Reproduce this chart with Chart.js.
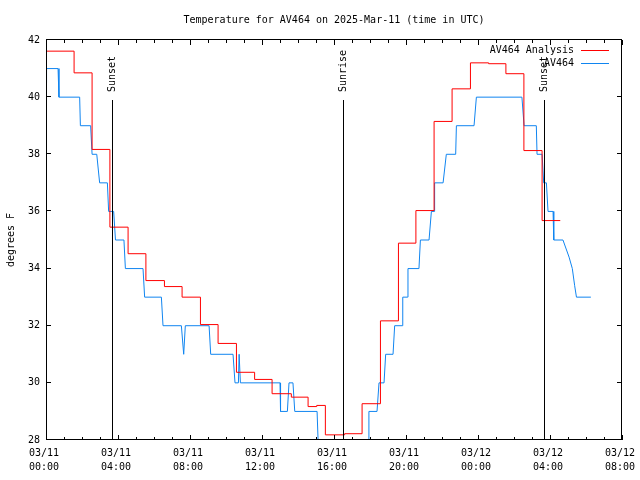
<!DOCTYPE html>
<html><head><meta charset="utf-8">
<script src="https://cdn.jsdelivr.net/npm/chart.js@4.4.1/dist/chart.umd.min.js"></script>
<style>html,body{margin:0;padding:0;background:#fff;}canvas{display:block;}</style>
</head><body>
<canvas id="c" width="640" height="480"></canvas>
<script>
// ---- data (hours since 03/11 00:00 UTC, degrees F) ----
const titleText = 'Temperature for AV464 on 2025-Mar-11 (time in UTC)';
const yAxisLabel = 'degrees F';
const tickDates = ['03/11','03/11','03/11','03/11','03/11','03/11','03/12','03/12','03/12'];
const tickTimes = ['00:00','04:00','08:00','12:00','16:00','20:00','00:00','04:00','08:00'];
const seriesNames = ['AV464 Analysis', 'AV464'];
const seriesColors = ['#ff0000', '#1085f0'];

const anaHours = [0, 1.56, 2.56, 3.55, 4.56, 5.55, 6.58, 7.56, 8.58, 9.56, 10.58, 11.59, 12.56, 13.63, 14.56, 15.04, 15.52, 16.59, 17.56, 18.58, 19.58, 20.55, 21.56, 22.56, 23.58, 24.59, 25.55, 26.55, 27.56, 28.57];
const anaTemps = [41.61, 40.85, 38.17, 35.45, 34.52, 33.58, 33.37, 33.0, 32.04, 31.38, 30.37, 30.12, 29.62, 29.5, 29.17, 29.21, 28.18, 28.22, 29.27, 32.17, 34.89, 36.03, 39.15, 40.29, 41.2, 41.17, 40.82, 38.13, 35.68, 35.68];

const obsHours = [0.0, 0.03, 0.67, 0.72, 1.87, 1.91, 2.48, 2.56, 2.82, 2.98, 3.41, 3.48, 3.76, 3.86, 4.33, 4.41, 5.39, 5.48, 6.41, 6.5, 7.52, 7.65, 7.74, 9.06, 9.15, 10.39, 10.5, 10.69, 10.73, 10.8, 13.0, 13.03, 13.41, 13.5, 13.72, 13.82, 15.06, 15.17, 17.89, 17.94, 18.39, 18.5, 18.78, 18.87, 19.28, 19.37, 19.78, 19.82, 20.08, 20.11, 20.72, 20.8, 21.28, 21.41, 21.56, 21.59, 22.06, 22.24, 22.76, 22.8, 23.78, 23.91, 26.44, 26.56, 27.24, 27.28, 27.56, 27.65, 27.8, 27.89, 28.17, 28.21, 28.72, 29.06, 29.24, 29.37, 29.47, 30.27];
const obsTemps = [40.5, 41, 41, 40, 40, 39, 39, 38, 38, 37, 37, 36, 36, 35, 35, 34, 34, 33, 33, 32, 32, 31, 32, 32, 31, 31, 30, 30, 31, 30, 30, 29, 29, 30, 30, 29, 29, 27, 27, 29, 29, 30, 30, 31, 31, 32, 32, 33, 33, 34, 34, 35, 35, 36, 36, 37, 37, 38, 38, 39, 39, 40, 40, 39, 39, 38, 38, 37, 37, 36, 36, 35, 35, 34.4, 34, 33.4, 33, 33];

const sunHours = [3.64, 16.5, 27.67];
const sunLabels = ['Sunset', 'Sunrise', 'Sunset'];

// ---- chart ----
const FONT = '"DejaVu Sans Mono", "Liberation Mono", monospace';
Chart.defaults.font.family = FONT;
Chart.defaults.font.size = 10;
Chart.defaults.color = '#000';

const toXY = (xs, ys) => xs.map((x, i) => ({x: x, y: ys[i]}));

const decor = {
  id: 'decor',
  afterDatasetsDraw(chart) {
    const {ctx, chartArea: a, scales: {x, y}} = chart;
    ctx.save();
    ctx.strokeStyle = '#000';
    ctx.fillStyle = '#000';
    ctx.lineWidth = 1;
    ctx.font = '10px ' + FONT;
    // sunrise / sunset markers
    sunHours.forEach((h, i) => {
      const px = Math.round(x.getPixelForValue(h)) + 0.5;
      ctx.beginPath();
      ctx.moveTo(px, a.top + 0.15 * (a.bottom - a.top));
      ctx.lineTo(px, a.bottom);
      ctx.stroke();
      ctx.save();
      ctx.translate(px, a.top + 52);
      ctx.rotate(-Math.PI / 2);
      ctx.textAlign = 'left';
      ctx.textBaseline = 'middle';
      ctx.fillText(sunLabels[i], 0, 0);
      ctx.restore();
    });
    // frame
    ctx.beginPath();
    ctx.rect(a.left + 0.5, a.top - 0.5, a.right - a.left - 1, a.bottom - a.top);
    ctx.stroke();
    // x ticks (hourly minor, 4-hourly major), mirrored on top
    ctx.beginPath();
    for (let h = x.min; h <= x.max; h++) {
      const len = (h % 4 === 0) ? 5 : 3;
      const px = Math.round(x.getPixelForValue(h)) + 0.5;
      ctx.moveTo(px, a.bottom); ctx.lineTo(px, a.bottom - len);
      ctx.moveTo(px, a.top); ctx.lineTo(px, a.top + len);
    }
    // y ticks, mirrored on right
    for (let v = y.min; v <= y.max; v += 2) {
      const py = Math.round(y.getPixelForValue(v)) - 0.5;
      ctx.moveTo(a.left, py); ctx.lineTo(a.left + 5, py);
      ctx.moveTo(a.right, py); ctx.lineTo(a.right - 5, py);
    }
    ctx.stroke();
    // legend (top right, text right-aligned, sample line to the right)
    ctx.textAlign = 'right';
    ctx.textBaseline = 'middle';
    chart.data.datasets.forEach((ds, i) => {
      const ty = a.top + 10 + 13 * i;
      ctx.fillStyle = '#000';
      ctx.fillText(ds.label, a.right - 48, ty);
      ctx.strokeStyle = ds.borderColor;
      ctx.beginPath();
      ctx.moveTo(a.right - 41, ty + 0.5);
      ctx.lineTo(a.right - 13, ty + 0.5);
      ctx.stroke();
    });
    ctx.restore();
  }
};

new Chart(document.getElementById('c'), {
  type: 'line',
  data: {
    datasets: [
      { label: seriesNames[0], data: toXY(anaHours, anaTemps), borderColor: seriesColors[0],
        borderWidth: 1, pointRadius: 0, stepped: true, tension: 0 },
      { label: seriesNames[1], data: toXY(obsHours, obsTemps), borderColor: seriesColors[1],
        borderWidth: 1, pointRadius: 0, tension: 0 }
    ]
  },
  options: {
    responsive: false,
    animation: false,
    devicePixelRatio: 1,
    events: [],
    layout: { padding: { left: 0, right: 18, top: 0, bottom: 0 } },
    plugins: {
      legend: { display: false },
      tooltip: { enabled: false },
      title: { display: true, text: titleText, fullSize: false, color: '#000',
               font: { size: 10, weight: 'normal', family: FONT }, padding: { top: 14, bottom: 14 } }
    },
    scales: {
      x: {
        type: 'linear', min: 0, max: 32,
        grid: { display: false, drawTicks: false }, border: { display: false },
        ticks: { stepSize: 4, autoSkip: false, maxRotation: 0, padding: 6, labelOffset: -2,
                 font: { size: 10, lineHeight: 1.4, family: FONT },
                 callback: (v) => { const i = Math.round(v / 4); return [tickDates[i], tickTimes[i]]; } },
        afterFit: (s) => { s.height = 40; s.paddingLeft = 0; s.paddingRight = 0; }
      },
      y: {
        type: 'linear', min: 28, max: 42,
        grid: { display: false, drawTicks: false }, border: { display: false },
        ticks: { stepSize: 2, padding: 6, font: { size: 10, family: FONT } },
        title: { display: true, text: yAxisLabel, color: '#000', padding: { top: 5, bottom: 0 },
                 font: { size: 10, lineHeight: 1.2, family: FONT } },
        afterFit: (s) => { s.width = 46; s.paddingTop = 0; s.paddingBottom = 0; }
      }
    }
  },
  plugins: [decor]
});
</script>
</body></html>
